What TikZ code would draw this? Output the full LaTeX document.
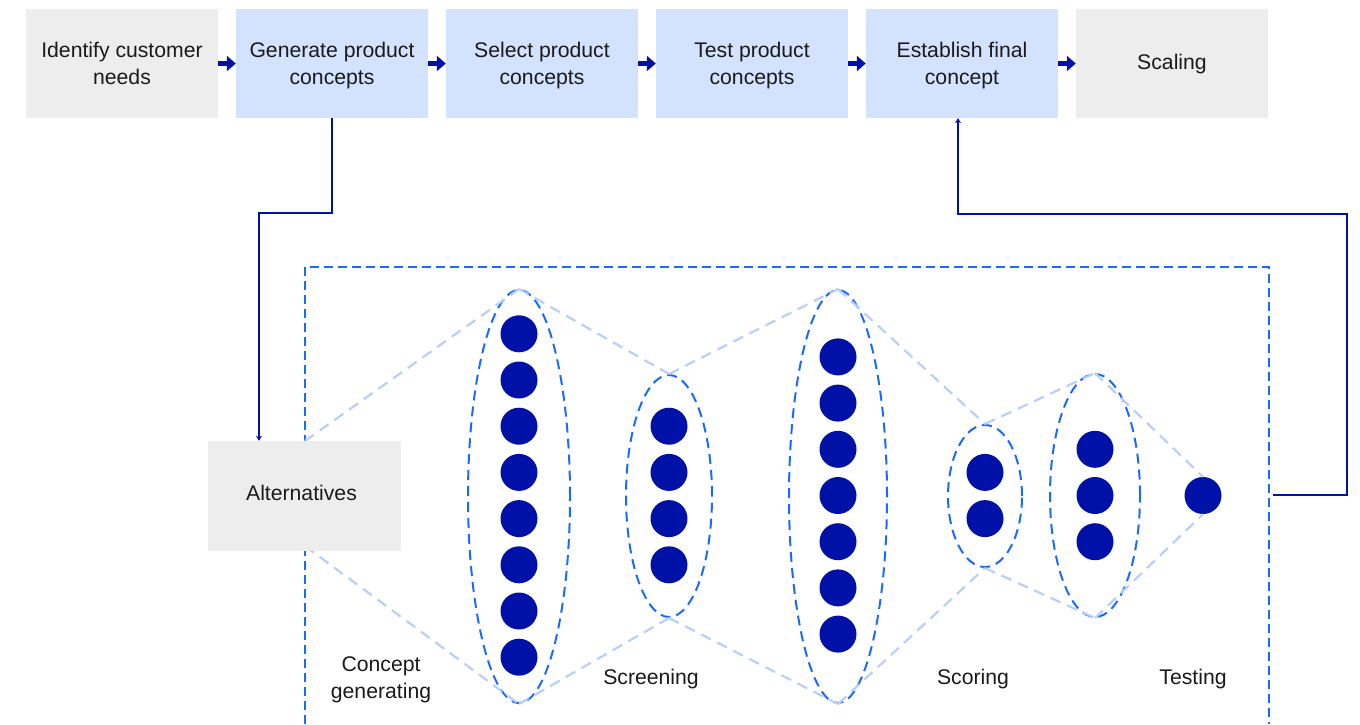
\documentclass[tikz,border=0pt]{standalone}
\usepackage{fontspec}
\setmainfont{Liberation Sans}
\usetikzlibrary{shapes.geometric,arrows.meta}
\definecolor{navy}{HTML}{0011A8}
\definecolor{boxblue}{HTML}{D3E2FE}
\definecolor{boxgray}{HTML}{EDEDED}
\definecolor{dashblue}{HTML}{1A6AFF}
\definecolor{lightblue}{HTML}{B8CFFB}
\definecolor{txt}{HTML}{1A1A1A}
\begin{document}
\begin{tikzpicture}[x=1pt,y=-1pt,
  font=\fontsize{21.2}{27}\selectfont, text=txt,
  graybox/.style={fill=boxgray, minimum width=192pt, minimum height=109pt, inner sep=0pt},
  bluebox/.style={fill=boxblue, minimum width=192pt, minimum height=109pt, inner sep=0pt},
  flow/.style={navy, line width=5pt, -{Triangle[length=9pt,width=15pt]}},
  conn/.style={navy, line width=2.5pt, -{Stealth[length=5pt,width=6pt]}},
  frame/.style={dashblue, line width=2pt, dash pattern=on 9pt off 5pt},
  ell/.style={ellipse, draw=dashblue, line width=2pt, dash pattern=on 10pt off 6pt, inner sep=0pt},
  guide/.style={lightblue, line width=2.2pt, dash pattern=on 11pt off 7pt},
  dot/.style={circle, fill=navy, minimum size=37pt, inner sep=0pt},
  lbl/.style={align=center, inner sep=0pt}
]
\useasboundingbox (0,0) rectangle (1360,724);

% top process boxes
\node[graybox] (b1) at (122,63.5) {};
\node[bluebox] (b2) at (332,63.5) {};
\node[bluebox] (b3) at (542,63.5) {};
\node[bluebox] (b4) at (752,63.5) {};
\node[bluebox] (b5) at (962,63.5) {};
\node[graybox] (b6) at (1172,63.5) {};
\node[lbl] (t1) at (122,63) {Identify customer\\needs};
\node[lbl] (t2) at (332,66) {Generate product\\concepts};
\node[lbl] (t3) at (542,66) {Select product\\concepts};
\node[lbl] (t4) at (752,66) {Test product\\concepts};
\node[lbl] (t5) at (962,66) {Establish final\\concept};
\node[lbl] (t6) at (1172,64) {Scaling};
\foreach \a/\b in {b1/b2,b2/b3,b3/b4,b4/b5,b5/b6}
  \draw[flow] (\a.east) -- (\b.west);

% dashed frame (open at the bottom)
\draw[frame] (305,724) -- (305,267) -- (1269,267) -- (1269,724);

% ellipses
\node[ell, minimum width=102pt, minimum height=413pt] (e1) at (519,496.5) {};
\node[ell, minimum width=86pt, minimum height=242pt] (e2) at (669,496) {};
\node[ell, minimum width=98pt, minimum height=413pt] (e3) at (838,496.5) {};
\node[ell, minimum width=74pt, minimum height=142pt] (e4) at (985,496) {};
\node[ell, minimum width=90pt, minimum height=243pt] (e5) at (1095,495.5) {};

% dots
\foreach \i in {1,...,8} \node[dot] (p\i) at (519,{495.5+46.2*(\i-4.5)}) {};
\foreach \i in {1,...,4} \node[dot] (q\i) at (669,{495.5+46.2*(\i-2.5)}) {};
\foreach \i in {1,...,7} \node[dot] (r\i) at (838,{495.5+46.2*(\i-4)}) {};
\foreach \i in {1,...,2} \node[dot] (s\i) at (985,{495.5+46.2*(\i-1.5)}) {};
\foreach \i in {1,...,3} \node[dot] (t\i) at (1095,{495.5+46.2*(\i-2)}) {};
\node[dot] (u) at (1203,495.5) {};

% funnel guide lines
\coordinate (g1) at (305,441);
\coordinate (g2) at (305,546);
\draw[guide] (g1) -- (e1.north);
\draw[guide] (g2) -- (e1.south);
\draw[guide] (e1.north) -- (e2.north);
\draw[guide] (e1.south) -- (e2.south);
\draw[guide] (e2.north) -- (e3.north);
\draw[guide] (e2.south) -- (e3.south);
\draw[guide] (e3.north) -- (e4.north);
\draw[guide] (e3.south) -- (e4.south);
\draw[guide] (e4.north) -- (e5.north);
\draw[guide] (e4.south) -- (e5.south);
\draw[guide] (e5.north) -- (u.north);
\draw[guide] (e5.south) -- (u.south);

% alternatives box (on top of guide lines)
\node[graybox, minimum width=193pt, minimum height=110pt] (alt) at (304.5,496) {};
\node[inner sep=0pt] (altt) at (301.5,493) {Alternatives};

% labels
\node[lbl] (l1) at (381,679.5) {Concept\\generating};
\node[lbl] (l2) at (651,679) {Screening};
\node[lbl] (l3) at (973,679) {Scoring};
\node[lbl] (l4) at (1193,679) {Testing};

% connectors
\draw[conn] (b2.south) -- ++(0,95) -| ([xshift=-45.5pt]alt.north);
\coordinate (fr) at (1273,495);
\draw[conn] (fr) -- ++(74,0) |- ([xshift=-4pt,yshift=-96pt]b5.south) -- ([xshift=-4pt]b5.south);
\end{tikzpicture}
\end{document}
